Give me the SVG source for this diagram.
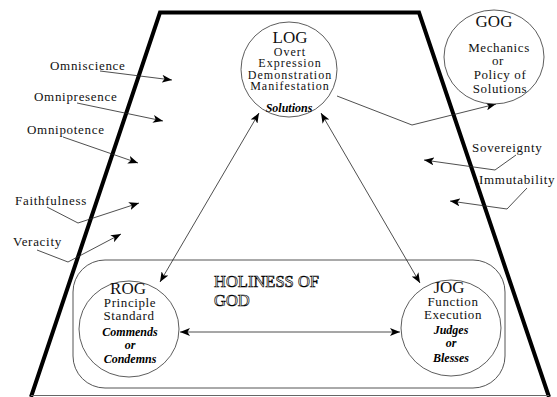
<svg xmlns="http://www.w3.org/2000/svg" width="557" height="397" viewBox="0 0 557 397">
<defs>
<marker id="ah" markerUnits="userSpaceOnUse" markerWidth="11" markerHeight="8" refX="10" refY="4" orient="auto-start-reverse">
<path d="M0,0 L10,4 L0,8 L2.5,4 z" fill="#000"/>
</marker>
<style>
.t{font-family:"Liberation Serif","Times New Roman",serif;font-size:13px;letter-spacing:0.6px;fill:#111;text-anchor:middle}
.s{font-size:12px;letter-spacing:1px}
.h{font-size:17px;letter-spacing:0}
.b{font-weight:bold;font-style:italic;font-size:12px;letter-spacing:0;fill:#000}
.l{text-anchor:start;letter-spacing:0.7px}
.c{fill:#fff;stroke:#333;stroke-width:0.8}
.k{fill:none;stroke:#222;stroke-width:0.8}
.o{font-family:"Liberation Serif","Times New Roman",serif;font-size:16.5px;fill:#fff;stroke:#000;stroke-width:0.7}
</style>
</defs>
<rect width="557" height="397" fill="#fff"/>
<g id="frame">
<path d="M31,397 L160,12.5 L419,12.5 L549,397" fill="none" stroke="#000" stroke-width="4"/>
<line x1="31" y1="395.5" x2="549" y2="395.5" stroke="#666" stroke-width="1"/>
</g>
<g id="holiness">
<rect x="73" y="260" width="432" height="128" rx="32" ry="32" fill="none" stroke="#555" stroke-width="1"/>
<text class="o" x="214" y="287">HOLINESS OF</text>
<text class="o" x="214" y="306">GOD</text>
</g>
<g id="connectors">
<line class="k" x1="259" y1="113" x2="160" y2="282" marker-start="url(#ah)" marker-end="url(#ah)"/>
<line class="k" x1="321" y1="113" x2="420" y2="283" marker-start="url(#ah)" marker-end="url(#ah)"/>
<line class="k" x1="180" y1="332" x2="400" y2="332" marker-start="url(#ah)" marker-end="url(#ah)"/>
<polyline class="k" points="337,96 412,125 496,104" marker-end="url(#ah)"/>
<polyline class="k" points="516,155 495,170 424,160" marker-end="url(#ah)"/>
<polyline class="k" points="527,188 507,209 450,201" marker-end="url(#ah)"/>
<polyline class="k" points="100,71 172,80" marker-end="url(#ah)"/>
<polyline class="k" points="77,103 163,121" marker-end="url(#ah)"/>
<polyline class="k" points="63,137 138,163" marker-end="url(#ah)"/>
<polyline class="k" points="47,207 78,223 139,203" marker-end="url(#ah)"/>
<polyline class="k" points="37,250 68,262 121,234" marker-end="url(#ah)"/>
</g>
<g id="LOG">
<ellipse class="c" cx="289" cy="69.5" rx="48" ry="47.5"/>
<text class="t h" x="290" y="43">LOG</text>
<text class="t s" x="290" y="55.5">Overt</text>
<text class="t s" x="290" y="67">Expression</text>
<text class="t s" x="290" y="78.5">Demonstration</text>
<text class="t s" x="290" y="90">Manifestation</text>
<text class="t b" x="289" y="112">Solutions</text>
</g>
<g id="GOG">
<ellipse class="c" cx="494" cy="57" rx="50" ry="47"/>
<text class="t h" x="494" y="27">GOG</text>
<text class="t" x="499" y="52">Mechanics</text>
<text class="t" x="498" y="65">or</text>
<text class="t" x="500" y="79">Policy of</text>
<text class="t" x="500" y="93">Solutions</text>
</g>
<g id="ROG">
<ellipse class="c" cx="129" cy="329" rx="50" ry="48"/>
<text class="t h" x="128" y="294">ROG</text>
<text class="t" x="130" y="307">Principle</text>
<text class="t" x="129" y="320">Standard</text>
<text class="t b" x="130" y="336">Commends</text>
<text class="t b" x="130" y="349">or</text>
<text class="t b" x="130" y="363">Condemns</text>
</g>
<g id="JOG">
<ellipse class="c" cx="451" cy="328" rx="50" ry="48"/>
<text class="t h" x="449" y="293">JOG</text>
<text class="t" x="453" y="306">Function</text>
<text class="t" x="453" y="319">Execution</text>
<text class="t b" x="451" y="334">Judges</text>
<text class="t b" x="451" y="347">or</text>
<text class="t b" x="451" y="362">Blesses</text>
</g>
<g id="attributes">
<text class="t l" x="50" y="70">Omniscience</text>
<text class="t l" x="34" y="101">Omnipresence</text>
<text class="t l" x="27" y="134">Omnipotence</text>
<text class="t l" x="15" y="205">Faithfulness</text>
<text class="t l" x="13" y="246">Veracity</text>
<text class="t l" x="472" y="152">Sovereignty</text>
<text class="t l" x="479" y="184">Immutability</text>
</g>
</svg>
